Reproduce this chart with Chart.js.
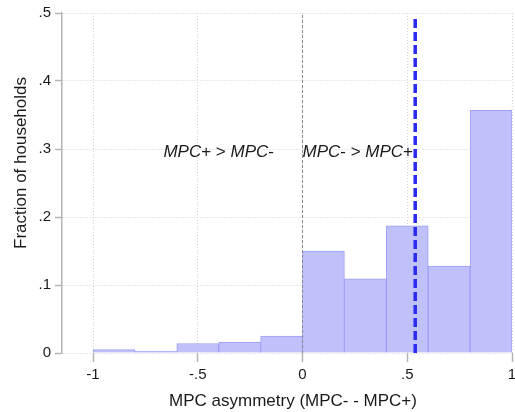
<!DOCTYPE html>
<html>
<head>
<meta charset="utf-8">
<title>MPC asymmetry</title>
<script src="https://cdn.jsdelivr.net/npm/chart.js@4"></script>
<style>
  body { margin: 0; background: #fff; }
  canvas { display: block; }
</style>
</head>
<body>
<canvas id="histChart" width="515" height="412"></canvas>
<script>
// histogram bins (width .2) and the fraction of households in each
const binStarts = [-1, -0.8, -0.6, -0.4, -0.2, 0, 0.2, 0.4, 0.6, 0.8];
const fractions = [0.005, 0.0025, 0.014, 0.016, 0.025, 0.150, 0.109, 0.187, 0.128, 0.357];
const binWidth = 0.2;

const xTickValues = [-1, -0.5, 0, 0.5, 1];
const yTickValues = [0, 0.1, 0.2, 0.3, 0.4, 0.5];

// mean asymmetry marker and the zero reference line
const meanAsymmetry = [0.538, 0.538];
const meanLineY = [0, 0.494];
const zeroLineX = [0, 0];
const zeroLineY = [0, 0.5];

const fontFamily = "'Liberation Sans', Arial, sans-serif";
const axisGray = '#b4b4b4';
const gridGray = '#d2d2d2';

// Stata style labels: .5 instead of 0.5
function stataLabel(v) {
    if (Math.abs(v) < 1e-9) return '0';
    const s = String(Math.round(v * 10) / 10);
    return s.replace('0.', '.');
}

function drawMixed(ctx, parts, x, y, align) {
    const size = 17;
    let total = 0;
    parts.forEach(p => {
        ctx.font = (p[1] ? 'italic ' : '') + size + 'px ' + fontFamily;
        total += ctx.measureText(p[0]).width;
    });
    let cx = align === 'right' ? x - total : (align === 'center' ? x - total / 2 : x);
    ctx.textAlign = 'left';
    ctx.textBaseline = 'middle';
    ctx.fillStyle = '#1a1a1a';
    parts.forEach(p => {
        ctx.font = (p[1] ? 'italic ' : '') + size + 'px ' + fontFamily;
        ctx.fillText(p[0], cx, y);
        cx += ctx.measureText(p[0]).width;
    });
}

const labelsPlugin = {
    id: 'labelsPlugin',
    afterDraw(chart) {
        const ctx = chart.ctx;
        const xs = chart.scales.x;
        const ys = chart.scales.y;
        ctx.save();

        // region labels either side of zero
        const ty = ys.getPixelForValue(0.295);
        drawMixed(ctx, [['MPC', true], ['+ > ', false], ['MPC', true], ['-', false]],
            xs.getPixelForValue(-0.40), ty, 'center');
        drawMixed(ctx, [['MPC', true], ['- > ', false], ['MPC', true], ['+', false]],
            xs.getPixelForValue(0), ty, 'left');

        // axis titles
        ctx.fillStyle = '#1a1a1a';
        ctx.font = '17px ' + fontFamily;
        ctx.textAlign = 'center';
        ctx.textBaseline = 'middle';
        ctx.fillText('MPC asymmetry (MPC- - MPC+)', 293, 401);

        ctx.translate(21, 163);
        ctx.rotate(-Math.PI / 2);
        ctx.fillText('Fraction of households', 0, 0);
        ctx.restore();
    }
};

const ctx = document.getElementById('histChart').getContext('2d');
const chart = new Chart(ctx, {
    data: {
        datasets: [{
            type: 'line',
            data: meanAsymmetry.map((x, i) => ({ x: x, y: meanLineY[i] })),
            borderColor: '#2a2af0',
            borderWidth: 3.5,
            borderDash: [9, 4],
            pointRadius: 0,
            fill: false,
            order: 0
        }, {
            type: 'line',
            data: zeroLineX.map((x, i) => ({ x: x, y: zeroLineY[i] })),
            borderColor: '#8a8a8a',
            borderWidth: 1,
            borderDash: [3, 2],
            pointRadius: 0,
            fill: false,
            order: 1
        }, {
            type: 'bar',
            data: binStarts.map((b, i) => ({ x: b + binWidth / 2, y: fractions[i] })),
            backgroundColor: '#c0c1fb',
            borderColor: '#9d9ff5',
            borderWidth: 1,
            barPercentage: 1,
            categoryPercentage: 1,
            order: 2
        }]
    },
    options: {
        responsive: false,
        animation: false,
        layout: { padding: { top: 13, right: 3, left: 0, bottom: 0 } },
        plugins: {
            legend: { display: false },
            tooltip: { enabled: false }
        },
        scales: {
            x: {
                type: 'linear',
                offset: false,
                min: -1.148,
                max: 1.0,
                afterBuildTicks: scale => {
                    scale.ticks = xTickValues.map(v => ({ value: v }));
                },
                afterFit: scale => {
                    scale.height = 59;
                    scale.paddingLeft = 0;
                    scale.paddingRight = 0;
                },
                ticks: {
                    callback: v => stataLabel(v),
                    font: { family: fontFamily, size: 15 },
                    color: '#1a1a1a',
                    padding: 4,
                    maxRotation: 0,
                    autoSkip: false
                },
                grid: {
                    offset: false,
                    color: gridGray,
                    lineWidth: 1,
                    tickLength: 9,
                    tickColor: axisGray,
                    tickWidth: 1.5,
                    tickBorderDash: []
                },
                border: { display: false, dash: [1, 2] }
            },
            y: {
                type: 'linear',
                min: 0,
                max: 0.5,
                afterBuildTicks: scale => {
                    scale.ticks = yTickValues.map(v => ({ value: v }));
                },
                afterFit: scale => {
                    scale.width = 62;
                    scale.paddingTop = 0;
                    scale.paddingBottom = 0;
                },
                ticks: {
                    callback: v => stataLabel(v),
                    font: { family: fontFamily, size: 15 },
                    color: '#1a1a1a',
                    padding: 4
                },
                grid: {
                    color: gridGray,
                    lineWidth: 1,
                    tickLength: 7,
                    tickColor: axisGray,
                    tickWidth: 1.5,
                    tickBorderDash: []
                },
                border: { display: true, color: axisGray, width: 1.5, dash: [1, 2] }
            }
        }
    },
    plugins: [labelsPlugin]
});
</script>
</body>
</html>
